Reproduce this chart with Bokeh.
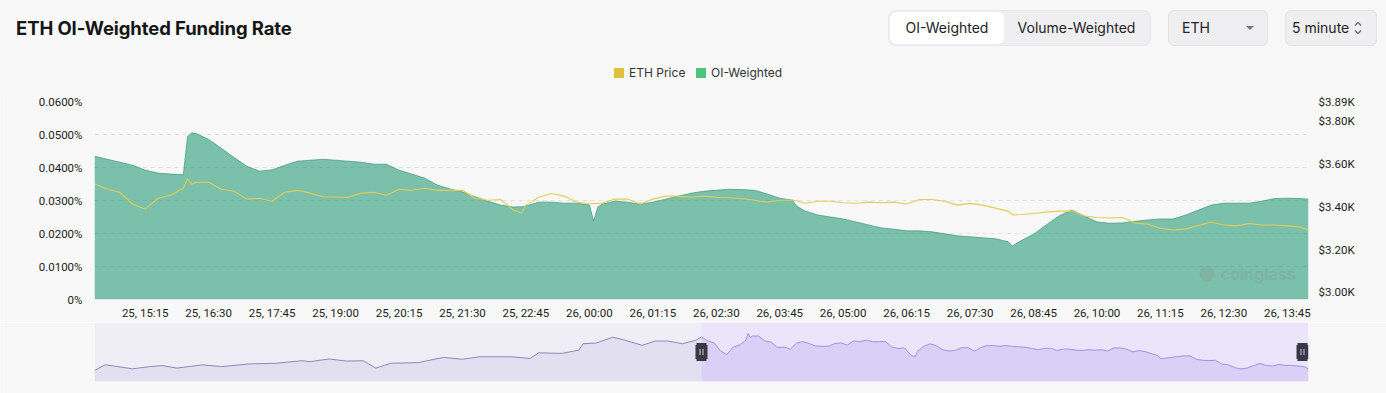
import numpy as np
from bokeh.plotting import figure
from bokeh.models import Range1d, LinearAxis, FixedTicker, Label, Div
from bokeh.layouts import column
from bokeh.embed import file_html
from bokeh.resources import INLINE

# ---------------- data ----------------
times = ["25 14:15","25 14:30","25 14:45","25 15:00","25 15:15","25 15:30","25 15:45","25 16:00",
         "25 16:05","25 16:10","25 16:15","25 16:30","25 16:45","25 17:00","25 17:15","25 17:30",
         "25 17:45","25 18:00","25 18:15","25 18:30","25 18:45","25 19:00","25 19:15","25 19:30",
         "25 19:45","25 20:00","25 20:15","25 20:30","25 20:45","25 21:00","25 21:15","25 21:30",
         "25 21:45","25 22:00","25 22:15","25 22:30","25 22:40","25 22:45","25 23:00","25 23:15",
         "25 23:30","25 23:45","26 00:00","26 00:05","26 00:10","26 00:15","26 00:30","26 00:45",
         "26 01:00","26 01:15","26 01:30","26 01:45","26 02:00","26 02:15","26 02:30","26 02:45",
         "26 03:00","26 03:15","26 03:30","26 03:45","26 04:00","26 04:05","26 04:15","26 04:30",
         "26 04:45","26 05:00","26 05:15","26 05:30","26 05:45","26 06:00","26 06:15","26 06:30",
         "26 06:45","26 07:00","26 07:15","26 07:30","26 07:45","26 08:00","26 08:15","26 08:20",
         "26 08:30","26 08:45","26 09:00","26 09:15","26 09:30","26 09:45","26 10:00","26 10:15",
         "26 10:30","26 10:45","26 11:00","26 11:15","26 11:30","26 11:45","26 12:00","26 12:15",
         "26 12:30","26 12:45","26 13:00","26 13:15","26 13:30","26 13:45","26 14:00","26 14:10"]

oi_weighted_rate = [0.0434,0.0425,0.0416,0.0407,0.0392,0.0383,0.0380,0.0378,
                    0.0494,0.0505,0.0503,0.0485,0.0458,0.0430,0.0404,0.0389,
                    0.0393,0.0407,0.0419,0.0422,0.0425,0.0422,0.0419,0.0416,
                    0.0410,0.0410,0.0392,0.0380,0.0368,0.0347,0.0335,0.0326,
                    0.0311,0.0298,0.0286,0.0280,0.0281,0.0283,0.0295,0.0295,
                    0.0292,0.0292,0.0286,0.0238,0.0280,0.0289,0.0298,0.0295,
                    0.0289,0.0295,0.0304,0.0313,0.0322,0.0328,0.0331,0.0334,
                    0.0333,0.0331,0.0320,0.0307,0.0301,0.0283,0.0268,0.0256,
                    0.0250,0.0244,0.0235,0.0226,0.0217,0.0213,0.0208,0.0208,
                    0.0205,0.0199,0.0193,0.0190,0.0187,0.0184,0.0175,0.0162,
                    0.0178,0.0198,0.0226,0.0253,0.0271,0.0253,0.0235,0.0231,
                    0.0232,0.0237,0.0241,0.0244,0.0244,0.0256,0.0271,0.0286,
                    0.0292,0.0292,0.0292,0.0298,0.0306,0.0307,0.0306,0.0304]

eth_price_k = [3.508,3.482,3.468,3.413,3.389,3.440,3.454,3.487,
               3.532,3.505,3.515,3.515,3.482,3.473,3.436,3.440,
               3.426,3.468,3.477,3.464,3.447,3.446,3.445,3.464,
               3.468,3.454,3.482,3.477,3.487,3.477,3.477,3.477,
               3.440,3.431,3.434,3.385,3.372,3.408,3.445,3.462,
               3.450,3.422,3.413,3.415,3.416,3.417,3.436,3.436,
               3.413,3.436,3.450,3.450,3.445,3.450,3.445,3.442,
               3.439,3.431,3.422,3.431,3.431,3.428,3.417,3.426,
               3.426,3.419,3.417,3.422,3.419,3.422,3.413,3.434,
               3.434,3.426,3.408,3.416,3.408,3.394,3.380,3.362,
               3.364,3.369,3.375,3.380,3.380,3.357,3.350,3.348,
               3.350,3.324,3.320,3.300,3.292,3.297,3.313,3.329,
               3.315,3.311,3.322,3.315,3.315,3.311,3.306,3.292]

# earlier day, only visible in the overview slider
prev_times = ["24 14:20","24 14:45","24 15:15","24 15:50","24 16:30","24 17:00","24 17:35","24 18:35",
              "24 19:20","24 20:25","24 21:30","24 22:30","24 22:50","24 23:35","25 00:15","25 00:55",
              "25 01:25","25 02:00","25 03:05","25 04:05","25 04:50","25 05:30","25 06:45","25 07:30",
              "25 07:50","25 08:45","25 09:25","25 09:35","25 10:05","25 10:45","25 11:10","25 11:55",
              "25 12:25","25 12:55","25 13:30","25 14:00"]
prev_price_k = [3.281,3.319,3.307,3.292,3.307,3.314,3.297,3.319,
                3.307,3.325,3.330,3.347,3.341,3.359,3.345,3.347,
                3.297,3.330,3.334,3.370,3.357,3.374,3.374,3.363,
                3.401,3.397,3.419,3.463,3.467,3.507,3.490,3.452,
                3.481,3.481,3.463,3.485]

x_tick_labels = ["25, 15:15","25, 16:30","25, 17:45","25, 19:00","25, 20:15","25, 21:30","25, 22:45",
                 "26, 00:00","26, 01:15","26, 02:30","26, 03:45","26, 05:00","26, 06:15","26, 07:30",
                 "26, 08:45","26, 10:00","26, 11:15","26, 12:30","26, 13:45"]
rate_ticks = [0.0, 0.01, 0.02, 0.03, 0.04, 0.05, 0.06]
rate_tick_labels = ["0%", "0.0100%", "0.0200%", "0.0300%", "0.0400%", "0.0500%", "0.0600%"]
price_ticks = [3.0, 3.2, 3.4, 3.6, 3.8, 3.89]
price_tick_labels = ["$3.00K", "$3.20K", "$3.40K", "$3.60K", "$3.80K", "$3.89K"]
legend_labels = ["ETH Price", "OI-Weighted"]
legend_colors = ["#dcc23f", "#4cc47e"]
button_labels = ["OI-Weighted", "Volume-Weighted"]
symbol_label = "ETH"
interval_label = "5 minute"
title_text = "ETH OI-Weighted Funding Rate"

# ---------------- helpers ----------------
def to_min(s):
    d, hm = s.replace(",", "").split()
    h, m = hm.split(":")
    return (int(d) - 25) * 1440 + int(h) * 60 + int(m)

t = [to_min(s) for s in times]
tp = [to_min(s) for s in prev_times]
xt = [to_min(s) for s in x_tick_labels]

BG = "#f8f8f8"
W = 1386
TICK_FONT = "Roboto"
UI_FONT = "Inter"
BL, BR = 94, 78   # left / right borders shared by both plots

# ---------------- header (HTML) ----------------
def box(l, tp_, w, h, extra):
    return (f'<div style="position:absolute;left:{l}px;top:{tp_}px;width:{w}px;height:{h}px;'
            f'box-sizing:border-box;{extra}"></div>')

def txt(l, tp_, s, extra=""):
    return (f'<div style="position:absolute;left:{l}px;top:{tp_}px;white-space:nowrap;{extra}">{s}</div>')

parts = []
parts.append(txt(16, 16, title_text, "font-size:18.5px;font-weight:700;color:#161616;line-height:24px;"
                 "letter-spacing:-0.1px;"))
parts.append(box(888, 10, 263, 36, "background:#efeff1;border:1px solid #e7e7ea;border-radius:8px;"))
parts.append(box(890, 12, 114, 32, "background:#ffffff;border-radius:6px;"))
parts.append(txt(890, 12, button_labels[0], "width:114px;text-align:center;line-height:32px;"
                 "font-size:14px;color:#222;"))
parts.append(txt(1004, 12, button_labels[1], "width:145px;text-align:center;line-height:32px;"
                 "font-size:14px;color:#222;"))
parts.append(box(1168, 10, 100, 36, "background:#efeff1;border:1px solid #e3e3e6;border-radius:6px;"))
parts.append(txt(1182, 12, symbol_label, "line-height:32px;font-size:14px;color:#222;"))
parts.append('<div style="position:absolute;left:1246px;top:26px;width:0;height:0;'
             'border-left:4px solid transparent;border-right:4px solid transparent;'
             'border-top:4px solid #777;"></div>')
parts.append(box(1285, 10, 92, 36, "background:#efeff1;border:1px solid #e3e3e6;border-radius:6px;"))
parts.append(txt(1292, 12, interval_label, "line-height:32px;font-size:14px;color:#222;"))
parts.append('<svg style="position:absolute;left:1353px;top:20px" width="10" height="16">'
             '<polyline points="2,5.5 5,2.5 8,5.5" fill="none" stroke="#666" stroke-width="1.2"/>'
             '<polyline points="2,10.5 5,13.5 8,10.5" fill="none" stroke="#666" stroke-width="1.2"/></svg>')
lx = [614, 696]
for x0, lab, col in zip(lx, legend_labels, legend_colors):
    parts.append(box(x0, 68, 10, 10, f"background:{col};"))
    parts.append(txt(x0 + 15, 65, lab, "font-size:12px;line-height:16px;color:#333;"))

HEAD_H = 93
header_html = (f'<div style="position:relative;width:{W}px;height:{HEAD_H + 2}px;background:{BG};'
               f'font-family:{UI_FONT};">' + "".join(parts) + "</div>")
head = Div(text=header_html, width=W, height=HEAD_H, margin=(0, 0, 0, 0),
           styles={"overflow": "visible", "background-color": BG})

# ---------------- main chart ----------------
main = figure(width=W, height=229, x_range=Range1d(t[0], t[-1]), y_range=Range1d(0, 0.06),
              toolbar_location=None, output_backend="svg",
              min_border_left=BL, min_border_right=BR, min_border_top=8, min_border_bottom=22,
              background_fill_color=BG, border_fill_color=BG, outline_line_color=None)
main.extra_y_ranges = {"price": Range1d(2.967, 3.892)}

main.varea(x=t, y1=0, y2=oi_weighted_rate, fill_color="#149169", fill_alpha=0.55)
main.line(t, oi_weighted_rate, line_color="#3d9a7b", line_width=1, line_alpha=0.7)
main.line(t, eth_price_k, y_range_name="price", line_color="#e2cc55", line_width=1.1)

right = LinearAxis(y_range_name="price", ticker=FixedTicker(ticks=price_ticks),
                   major_label_overrides=dict(zip(price_ticks, price_tick_labels)))
main.add_layout(right, "right")

main.xaxis.ticker = FixedTicker(ticks=xt)
main.xaxis.major_label_overrides = dict(zip(xt, x_tick_labels))
main.xaxis.major_label_standoff = 6
main.yaxis[0].ticker = FixedTicker(ticks=rate_ticks)
main.yaxis[0].major_label_overrides = dict(zip(rate_ticks, rate_tick_labels))
main.yaxis[0].major_label_standoff = 12
right.major_label_standoff = 10

for ax in main.axis:
    ax.axis_line_color = None
    ax.major_tick_line_color = None
    ax.minor_tick_line_color = None
    ax.major_tick_out = 0
    ax.major_tick_in = 0
    ax.minor_tick_out = 0
    ax.major_label_text_font = TICK_FONT
    ax.major_label_text_font_size = "11.5px"
    ax.major_label_text_color = "#1c1c1c"

main.xgrid.visible = False
main.ygrid.grid_line_color = "#e0e0e0"
main.ygrid.grid_line_dash = "4 4"

# watermark
main.scatter([2170], [0.0077], marker="circle", size=15, fill_color="#8a8a8a", fill_alpha=0.22,
             line_color=None)
main.add_layout(Label(x=2186, y=0.0076, text="coinglass", text_font=UI_FONT, text_font_style="bold",
                      text_font_size="16px", text_baseline="middle", text_color="#8a8a8a",
                      text_alpha=0.26))

# ---------------- overview slider ----------------
t0, tend = t[0], t[-1]
s_start = 2 * t0 - tend
span = tend - s_start
all_p = prev_price_k + eth_price_k
pmin, pmax = min(all_p), max(all_p)
ymin = pmin - 0.3 * (pmax - pmin)
ymax = pmax + 0.3 * (pmax - pmin)

sl = figure(width=W, height=71, x_range=Range1d(s_start, tend), y_range=Range1d(ymin, ymax),
            x_axis_type=None, y_axis_type=None, toolbar_location=None, output_backend="svg",
            min_border_left=BL, min_border_right=BR, min_border_top=0, min_border_bottom=12,
            background_fill_color=BG, border_fill_color=BG, outline_line_color=None)
sl.grid.visible = False
sl.quad(left=[s_start], right=[t0], bottom=[ymin], top=[ymax], fill_color="#efedf6", line_color=None)
sl.quad(left=[t0], right=[tend], bottom=[ymin], top=[ymax], fill_color="#ebe4fb", line_color=None)

px = tp + [t0]
pp = prev_price_k + [eth_price_k[0]]
sl.varea(x=px, y1=ymin, y2=pp, fill_color="#e2dff0")
sl.line(px, pp, line_color="#8f89bb", line_width=1)
sl.varea(x=t, y1=ymin, y2=eth_price_k, fill_color="#d9cff7")
sl.line(t, eth_price_k, line_color="#a193e0", line_width=1)

ymid = (ymin + ymax) / 2
dpx = span / (W - BL - BR)
for hx in [t0, tend - 6 * dpx]:
    sl.rect(x=[hx], y=[ymid], width=10, height=18, width_units="screen", height_units="screen",
            fill_color="#3a3847", line_color=None)
    sl.rect(x=[hx], y=[ymid], width=12, height=14, width_units="screen", height_units="screen",
            fill_color="#3a3847", line_color=None)
    sl.rect(x=[hx - 1.5 * dpx, hx + 1.5 * dpx], y=[ymid, ymid], width=1, height=6,
            width_units="screen", height_units="screen", fill_color="#c9c6d6", line_color=None)

layout = column(head, main, sl, spacing=0)
open("out.html", "w").write(file_html(layout, INLINE))
